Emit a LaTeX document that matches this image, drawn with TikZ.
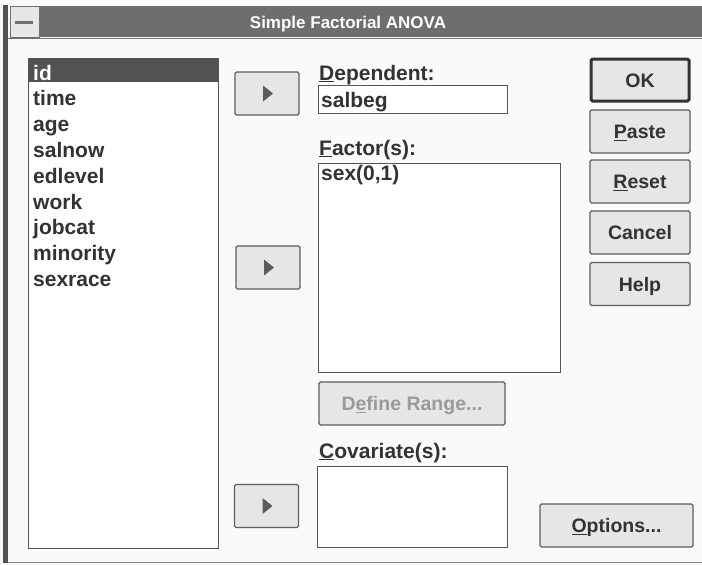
\documentclass[tikz,border=0pt]{standalone}
\usepackage{fontspec}
\setmainfont{Liberation Sans}
\newcommand\hotkey[1]{\underline{#1}}
\definecolor{paper}{HTML}{FAFAFA}
\definecolor{ink}{HTML}{333333}
\definecolor{titlegray}{HTML}{6E6E6E}
\definecolor{btnfill}{HTML}{E6E6E6}
\definecolor{btnedge}{HTML}{5E5E5E}
\definecolor{boxedge}{HTML}{555555}
\definecolor{dimtext}{HTML}{9A9A9A}
\begin{document}
\begin{tikzpicture}[x=1pt,y=-1pt,
  uitext/.style={inner sep=0pt, text=ink, font=\fontsize{21}{23}\selectfont\bfseries},
  item/.style={uitext, anchor=base west},
  field/.style={draw=boxedge, line width=1.1pt, fill=white},
  winbtn/.style={draw=btnedge, line width=1.3pt, fill=btnfill, rounded corners=1.5pt,
    inner sep=0pt, text height=14.5pt, text depth=0pt, text=ink,
    font=\fontsize{19.5}{21}\selectfont\bfseries},
  defbtn/.style={winbtn, draw=ink, line width=3pt},
  movebtn/.style={winbtn, minimum width=64pt, minimum height=43pt},
  sidebtn/.style={winbtn, minimum width=100pt, minimum height=43pt},
  glyph/.style={fill=ink!80}
]
\useasboundingbox (0,0) rectangle (702,565);
\fill[paper] (0,0) rectangle (702,565);

% window frame and caption bar
\fill[ink!85] (3,5) rectangle (8,563);
\draw[ink!60, line width=0.8pt] (8,562) -- (702,562);
\fill[titlegray] (10,6) rectangle (702,37);
\fill[btnfill] (10,6) rectangle (39,37);
\draw[ink!70, line width=0.8pt] (10,6) rectangle (39,37);
\fill[ink!70] (15,21) rectangle (33,24);
\draw[ink!70, line width=1pt] (8,38) -- (702,38);
\node[inner sep=0pt, anchor=base, text=white, font=\fontsize{17}{19}\selectfont\bfseries]
  (caption) at (348,28) {Simple Factorial ANOVA};

% source variable list
\node[field, anchor=north west, minimum width=190pt, minimum height=490pt] (vars) at (28,58) {};
\fill[ink!85] (28,58) rectangle (218,82);
\node[item, text=white] (v1) at (33,80) {id};
\node[item] (v2) at (33,105.8) {time};
\node[item] (v3) at (33,131.6) {age};
\node[item] (v4) at (33,157.4) {salnow};
\node[item] (v5) at (33,183.2) {edlevel};
\node[item] (v6) at (33,209) {work};
\node[item] (v7) at (33,234.8) {jobcat};
\node[item] (v8) at (33,260.6) {minority};
\node[item] (v9) at (33,286.4) {sexrace};

% transfer buttons
\node[movebtn] (mv1) at (267,93.5) {};
\node[movebtn] (mv2) at (268,267.5) {};
\node[movebtn] (mv3) at (266.5,506) {};
\foreach \b in {mv1,mv2,mv3}
  \fill[glyph] (\b.center) ++(-4,-8) -- ++(10,8) -- ++(-10,8) -- cycle;

% dependent variable
\node[item] (deplbl) at (319,80) {\hotkey{D}ependent:};
\node[field, anchor=north west, minimum width=189pt, minimum height=28pt] (dep) at (318,85) {};
\node[item] (depval) at (321,107) {salbeg};

% factors
\node[item] (faclbl) at (319,155) {\hotkey{F}actor(s):};
\node[field, anchor=north west, minimum width=242pt, minimum height=209pt] (fac) at (318,163) {};
\node[item] (facval) at (321,180) {sex(0,1)};
\node[winbtn, minimum width=186pt, minimum height=43pt, text=dimtext] (range) at (412,403.5)
  {D\hotkey{e}fine Range...};

% covariates
\node[item] (covlbl) at (319,458) {\hotkey{C}ovariate(s):};
\node[field, anchor=north west, minimum width=190pt, minimum height=81pt] (cov) at (317,466) {};

% command buttons
\node[defbtn, minimum width=98pt, minimum height=42pt] (ok) at (640,80) {OK};
\node[sidebtn] (paste) at (640,131.5) {\hotkey{P}aste};
\node[sidebtn] (reset) at (640,181.5) {\hotkey{R}eset};
\node[sidebtn] (cancel) at (640,232.5) {Cancel};
\node[sidebtn] (help) at (640,284) {Help};
\node[winbtn, minimum width=153pt, minimum height=43pt] (opts) at (616.5,525.5) {\hotkey{O}ptions...};
\end{tikzpicture}
\end{document}
